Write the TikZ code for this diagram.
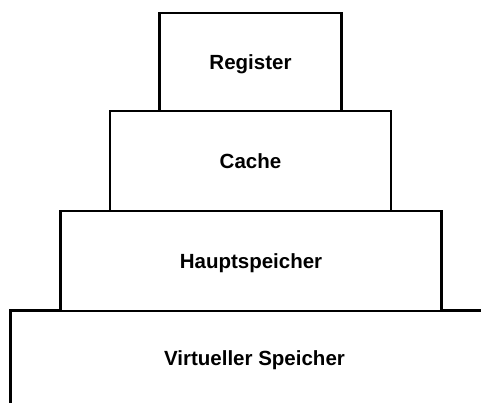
\documentclass[tikz,border=0pt]{standalone}
\usepackage{fontspec}
\setmainfont{Liberation Sans}
\begin{document}
\begin{tikzpicture}[x=1pt,y=-1pt,
  level/.style={draw=black, line width=2.8pt, fill=white, inner sep=0pt,
    text height=14.7pt, text depth=0pt,
    font=\fontsize{20.5}{24}\selectfont\bfseries, text=black}]
\useasboundingbox (0,0) rectangle (481,403);
\clip (0,0) rectangle (481,403);
\node[level, minimum width=488pt, minimum height=96pt] (virt) at (254.5,358.5) {Virtueller Speicher};
\node[level, minimum width=381pt, minimum height=100pt] (haupt) at (251,261) {Hauptspeicher};
\node[level, minimum width=281pt, minimum height=100pt] (cache) at (250.5,161) {Cache};
\node[level, minimum width=182pt, minimum height=98pt] (reg) at (250.5,62) {Register};
\end{tikzpicture}
\end{document}
